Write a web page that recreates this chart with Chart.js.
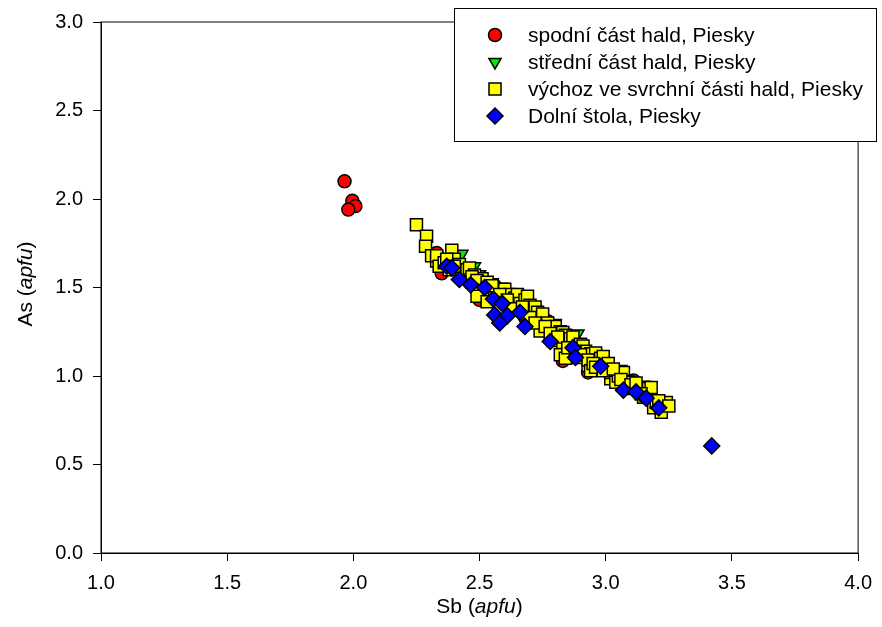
<!doctype html>
<html lang="cs">
<head>
    <meta charset="utf-8">
    <script src="https://cdn.jsdelivr.net/npm/chart.js"></script>
    <style>
        body { margin: 0; background: #fff; }
        canvas { display: block; }
    </style>
</head>
<body>
    <canvas id="myChart" width="882" height="627"></canvas>
    <script>
        // Sb vs As (apfu)
        const sbRed = [1.965, 1.996, 2.008, 1.98, 2.33, 2.35, 2.45, 2.50, 2.56, 2.68, 2.77, 2.83, 2.93, 3.02, 3.11];
        const asRed = [2.10, 1.99, 1.96, 1.94, 1.695, 1.58, 1.55, 1.43, 1.51, 1.33, 1.31, 1.085, 1.02, 1.00, 0.975];

        const sbGreen = [2.43, 2.48, 2.50, 2.55, 2.60, 2.72, 2.80, 2.89, 2.95, 3.06, 3.15];
        const asGreen = [1.69, 1.62, 1.575, 1.53, 1.47, 1.38, 1.30, 1.24, 1.14, 1.04, 0.95];

        const sbYellow = [2.25, 2.29, 2.286, 2.31, 2.33, 2.33, 2.34, 2.36, 2.38, 2.39, 2.40, 2.42, 2.44, 2.45, 2.46,
            2.47, 2.48, 2.50, 2.51, 2.52, 2.54, 2.56, 2.57, 2.59, 2.60, 2.60, 2.62, 2.63, 2.64, 2.65,
            2.66, 2.68, 2.69, 2.69, 2.70, 2.71, 2.72, 2.73, 2.74, 2.74, 2.75, 2.77, 2.79, 2.79, 2.80,
            2.82, 2.83, 2.83, 2.84, 2.85, 2.86, 2.87, 2.87, 2.89, 2.90, 2.91, 2.92, 2.93, 2.94, 2.96,
            2.97, 2.98, 2.99, 3.00, 3.01, 3.02, 3.02, 3.02, 3.04, 3.05, 3.07, 3.08, 3.09, 3.11, 3.13,
            3.15, 3.16, 3.17, 3.18, 3.19, 3.20, 3.22, 3.22, 3.24,
            2.37, 2.40, 2.47, 2.49, 2.49, 2.53, 2.53, 2.55, 2.58, 2.61, 2.63, 2.67, 2.70, 2.72, 2.76,
            2.78, 2.81, 2.82, 2.84, 2.85, 2.88, 2.90, 2.93, 2.94, 2.95, 2.96, 2.99, 3.03, 3.06, 3.10,
            3.12, 3.14, 3.21, 3.25];
        const asYellow = [1.855, 1.79, 1.733, 1.68, 1.65, 1.68, 1.62, 1.64, 1.60, 1.71, 1.66, 1.63, 1.58, 1.60, 1.61,
            1.53, 1.57, 1.51, 1.55, 1.52, 1.50, 1.46, 1.48, 1.49, 1.45, 1.49, 1.46, 1.41, 1.44, 1.46,
            1.41, 1.43, 1.35, 1.45, 1.40, 1.37, 1.39, 1.36, 1.32, 1.255, 1.35, 1.30, 1.27, 1.20, 1.28,
            1.25, 1.245, 1.19, 1.23, 1.19, 1.21, 1.22, 1.15, 1.105, 1.18, 1.17, 1.14, 1.06, 1.125, 1.13,
            1.09, 1.10, 1.11, 1.04, 1.07, 1.01, 0.985, 1.02, 0.965, 1.00, 1.02, 0.97, 0.965, 0.93, 0.92,
            0.88, 0.89, 0.93, 0.935, 0.82, 0.85, 0.795, 0.84, 0.85,
            1.66, 1.62, 1.56, 1.54, 1.45, 1.53, 1.42, 1.51, 1.46, 1.43, 1.38, 1.39, 1.33, 1.30, 1.28,
            1.24, 1.22, 1.12, 1.10, 1.16, 1.13, 1.12, 1.09, 1.03, 1.07, 1.05, 1.03, 1.04, 0.98, 0.95,
            0.96, 0.90, 0.86, 0.83];

        const sbBlue = [2.37, 2.39, 2.42, 2.465, 2.52, 2.555, 2.59, 2.56, 2.61, 2.66, 2.58, 2.68, 2.78, 2.87, 2.88,
            2.98, 3.07, 3.12, 3.16, 3.21, 3.42];
        const asBlue = [1.62, 1.61, 1.545, 1.515, 1.50, 1.435, 1.41, 1.345, 1.34, 1.36, 1.30, 1.28, 1.195, 1.16, 1.105,
            1.055, 0.92, 0.91, 0.875, 0.82, 0.605];

        const seriesNames = ['spodní část hald, Piesky', 'střední část hald, Piesky',
            'výchoz ve svrchní části hald, Piesky', 'Dolní štola, Piesky'];
        const xTicks = [1.0, 1.5, 2.0, 2.5, 3.0, 3.5, 4.0];
        const yTicks = [0.0, 0.5, 1.0, 1.5, 2.0, 2.5, 3.0];

        function pts(xs, ys) {
            return xs.map((x, i) => ({ x: x, y: ys[i] }));
        }

        const FONT = '"Liberation Sans", Arial, sans-serif';

        const marks = [
            { style: 'circle', color: '#ff0000', r: 6.5, rot: 0 },
            { style: 'triangle', color: '#00ee00', r: 7, rot: 180 },
            { style: 'rect', color: '#ffff00', r: 8.5, rot: 0 },
            { style: 'rectRot', color: '#0000ff', r: 8, rot: 0 }
        ];

        // own symbol drawing for the legend box
        function symbol(ctx, m, x, y) {
            ctx.save();
            ctx.beginPath();
            if (m.style === 'circle') {
                ctx.arc(x, y, m.r, 0, Math.PI * 2);
            } else if (m.style === 'triangle') {
                const r = m.r;
                ctx.moveTo(x - r * 0.87, y - r * 0.5);
                ctx.lineTo(x + r * 0.87, y - r * 0.5);
                ctx.lineTo(x, y + r);
                ctx.closePath();
            } else if (m.style === 'rect') {
                const s = m.r * Math.SQRT1_2;
                ctx.rect(x - s, y - s, 2 * s, 2 * s);
            } else {
                ctx.moveTo(x, y - m.r);
                ctx.lineTo(x + m.r, y);
                ctx.lineTo(x, y + m.r);
                ctx.lineTo(x - m.r, y);
                ctx.closePath();
            }
            ctx.fillStyle = m.color;
            ctx.fill();
            ctx.lineWidth = 1.5;
            ctx.strokeStyle = '#000';
            ctx.stroke();
            ctx.restore();
        }

        function mixedTitle(ctx, parts, cx, cy, size) {
            let w = 0;
            for (const p of parts) {
                ctx.font = (p.it ? 'italic ' : '') + size + 'px ' + FONT;
                p.w = ctx.measureText(p.t).width;
                w += p.w;
            }
            let x = cx - w / 2;
            ctx.textBaseline = 'middle';
            ctx.textAlign = 'left';
            ctx.fillStyle = '#000';
            for (const p of parts) {
                ctx.font = (p.it ? 'italic ' : '') + size + 'px ' + FONT;
                ctx.fillText(p.t, x, cy);
                x += p.w;
            }
        }

        const extras = {
            id: 'extras',
            afterDatasetsDraw(chart) {
                const ctx = chart.ctx;
                const a = chart.chartArea;
                ctx.save();
                ctx.strokeStyle = '#000';
                ctx.lineWidth = 1;
                ctx.strokeRect(a.left, a.top, a.right - a.left, a.bottom - a.top);

                // axis titles
                mixedTitle(ctx, [{ t: 'Sb (' }, { t: 'apfu', it: true }, { t: ')' }], (a.left + a.right) / 2, 607, 21);
                ctx.save();
                ctx.translate(26, 284);
                ctx.rotate(-Math.PI / 2);
                mixedTitle(ctx, [{ t: 'As (' }, { t: 'apfu', it: true }, { t: ')' }], 0, 0, 21);
                ctx.restore();

                // legend box
                ctx.fillStyle = '#fff';
                ctx.fillRect(454, 8, 423, 134);
                ctx.strokeRect(454.5, 8.5, 422, 133);
                ctx.font = '21px ' + FONT;
                ctx.textBaseline = 'middle';
                ctx.textAlign = 'left';
                for (let i = 0; i < seriesNames.length; i++) {
                    const y = 35 + i * 27;
                    symbol(ctx, marks[i], 495, y);
                    ctx.fillStyle = '#000';
                    ctx.fillText(seriesNames[i], 528, y + 1);
                }
                ctx.restore();
            }
        };

        const data = {
            datasets: [
                { label: seriesNames[0], data: pts(sbRed, asRed), order: 3 },
                { label: seriesNames[1], data: pts(sbGreen, asGreen), order: 2 },
                { label: seriesNames[2], data: pts(sbYellow, asYellow), order: 1 },
                { label: seriesNames[3], data: pts(sbBlue, asBlue), order: 0 }
            ].map((d, i) => Object.assign(d, {
                pointStyle: marks[i].style,
                pointRadius: marks[i].r,
                pointRotation: marks[i].rot,
                backgroundColor: marks[i].color,
                borderColor: '#000',
                borderWidth: 1.5
            }))
        };

        const tickFont = { family: FONT, size: 20 };

        const config = {
            type: 'scatter',
            data: data,
            options: {
                responsive: false,
                animation: false,
                layout: { padding: { left: 0, right: 19, top: 20, bottom: 0 } },
                plugins: {
                    legend: { display: false },
                    tooltip: { enabled: false }
                },
                scales: {
                    x: {
                        type: 'linear',
                        min: 1,
                        max: 4,
                        afterBuildTicks: s => { s.ticks = xTicks.map(v => ({ value: v })); },
                        afterFit: s => { s.height = 74; },
                        ticks: {
                            color: '#000',
                            font: tickFont,
                            padding: 10,
                            maxRotation: 0,
                            callback: v => v.toFixed(1)
                        },
                        grid: { drawOnChartArea: false, tickLength: 8, color: '#000', tickColor: '#000' },
                        border: { color: '#000', width: 1 }
                    },
                    y: {
                        type: 'linear',
                        min: 0,
                        max: 3,
                        afterBuildTicks: s => { s.ticks = yTicks.map(v => ({ value: v })); },
                        afterFit: s => { s.width = 101; },
                        ticks: {
                            color: '#000',
                            font: tickFont,
                            padding: 10,
                            callback: v => v.toFixed(1)
                        },
                        grid: { drawOnChartArea: false, tickLength: 8, color: '#000', tickColor: '#000' },
                        border: { color: '#000', width: 1 }
                    }
                }
            },
            plugins: [extras]
        };

        const myChart = new Chart(document.getElementById('myChart'), config);
    </script>
</body>
</html>
